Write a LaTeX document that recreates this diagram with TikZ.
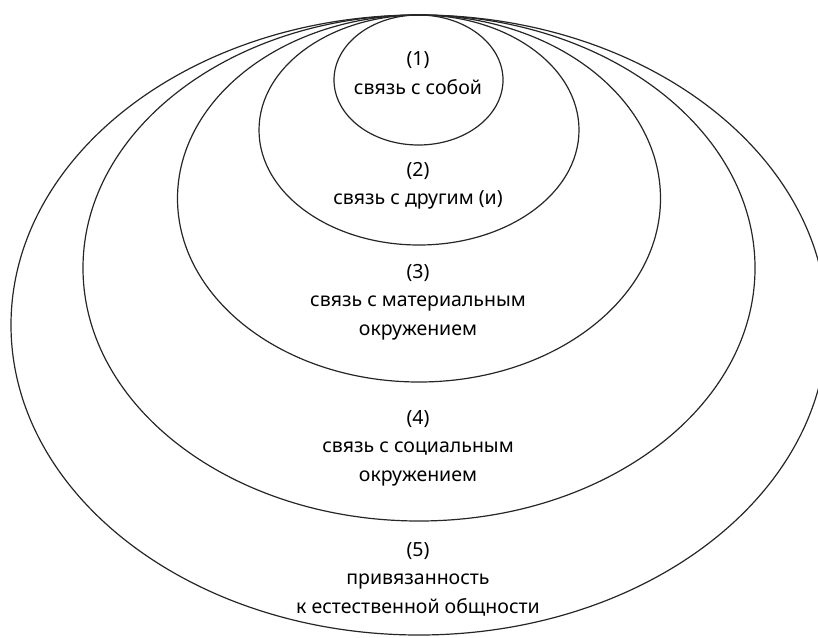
\documentclass[tikz,border=0pt]{standalone}
\usepackage{fontspec}
\setmainfont{Noto Sans}
\tikzset{
  ring/.style={draw=black!85, line width=1.2pt},
  ringlabel/.style={align=center, inner sep=0pt, font=\fontsize{19.5}{28.5}\selectfont}
}
\begin{document}
\begin{tikzpicture}[x=1pt, y=-1pt]
  \useasboundingbox (0,0) rectangle (818,637);
  \clip (0,0) rectangle (818,637);
  \draw[ring] (419,325) ellipse [x radius=408, y radius=310];
  \draw[ring] (419,268) ellipse [x radius=336, y radius=253];
  \draw[ring] (419,198.5) ellipse [x radius=241.5, y radius=183.5];
  \draw[ring] (419,130) ellipse [x radius=160, y radius=115];
  \draw[ring] (418.5,80) ellipse [x radius=84.5, y radius=65];
  \node[ringlabel] (self) at (418,73) {(1)\\связь с собой};
  \node[ringlabel] (other) at (418,186) {(2)\\связь с другим (и)};
  \node[ringlabel] (material) at (418,302) {(3)\\связь с материальным\\окружением};
  \node[ringlabel] (social) at (418,448) {(4)\\связь с социальным\\окружением};
  \node[ringlabel] (nature) at (418,579) {(5)\\привязанность\\к естественной общности};
\end{tikzpicture}
\end{document}
